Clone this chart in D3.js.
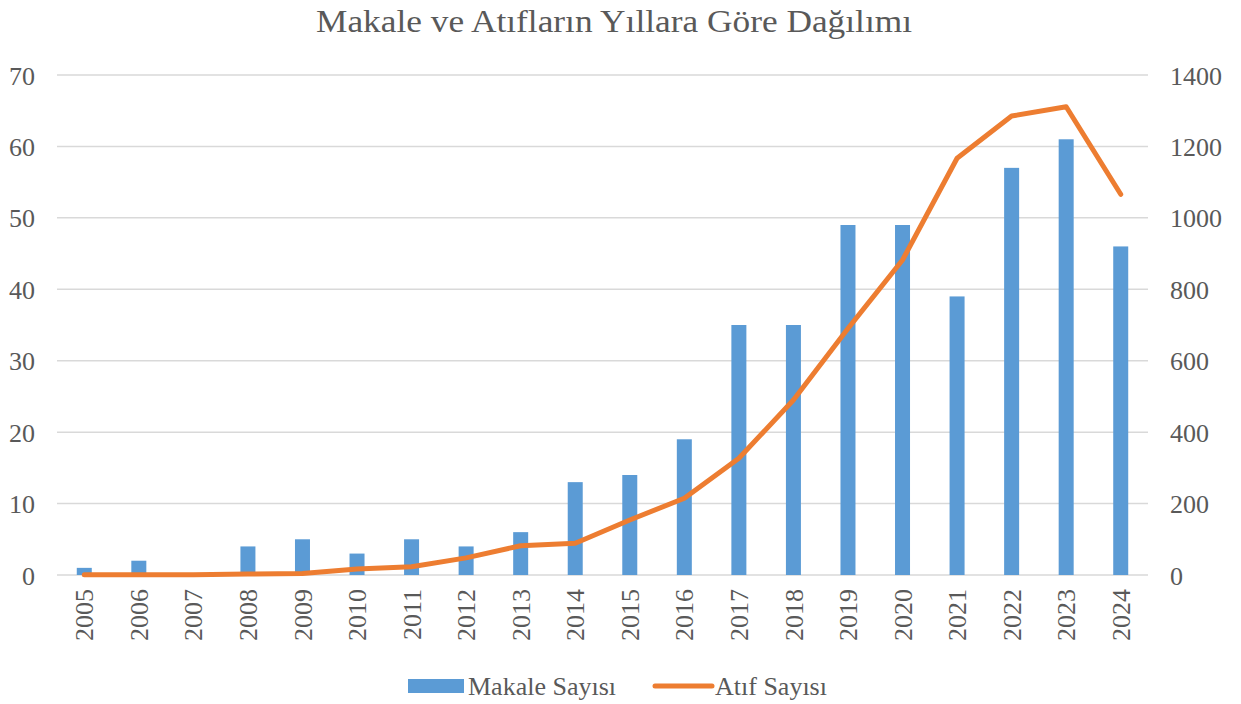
<!DOCTYPE html>
<html>
<head>
<meta charset="utf-8">
<script src="https://cdn.jsdelivr.net/npm/d3@7"></script>
<style>
  body { margin: 0; background: #fff; }
</style>
</head>
<body>
<script>
// data
const years = ['2005','2006','2007','2008','2009','2010','2011','2012','2013','2014',
               '2015','2016','2017','2018','2019','2020','2021','2022','2023','2024']
const makale = [1, 2, 0, 4, 5, 3, 5, 4, 6, 13, 14, 19, 35, 35, 49, 49, 39, 57, 61, 46]
const atif = [1, 1, 1, 3, 4, 17, 23, 48, 82, 89, 154, 215, 327, 490, 690, 882, 1167, 1285, 1311, 1066]
const leftTicks = [0, 10, 20, 30, 40, 50, 60, 70]
const rightTicks = [0, 200, 400, 600, 800, 1000, 1200, 1400]

const width = 1241, height = 704
const m = { top: 75, right: 93, bottom: 129, left: 57 }
const serif = 'Liberation Serif, Times New Roman, DejaVu Serif, serif'
const textColor = '#595959'

let svg = d3.select('body').append('svg')
    .attr('width', width)
    .attr('height', height)

// scales
let x = d3.scaleBand()
    .domain(years)
    .range([m.left, width - m.right])

let yL = d3.scaleLinear()
    .domain([0, 70])
    .range([height - m.bottom, m.top])

let yR = d3.scaleLinear()
    .domain([0, 1400])
    .range([height - m.bottom, m.top])

// title
svg.append('text')
    .attr('x', 614)
    .attr('y', 32)
    .attr('text-anchor', 'middle')
    .attr('textLength', 596)
    .attr('lengthAdjust', 'spacingAndGlyphs')
    .style('font-family', serif)
    .style('fill', textColor)
    .style('font-size', '32px')
    .text('Makale ve Atıfların Yıllara Göre Dağılımı')

// gridlines
svg.append('g')
    .selectAll('line')
    .data(leftTicks)
    .enter().append('line')
    .attr('x1', m.left)
    .attr('x2', width - m.right)
    .attr('y1', d => yL(d))
    .attr('y2', d => yL(d))
    .attr('stroke', '#d9d9d9')
    .attr('stroke-width', 1.5)

function styleAxis(g) {
    g.select('.domain').remove()
    g.selectAll('text')
        .style('font-family', serif)
        .style('font-size', '26px')
        .style('fill', textColor)
        .attr('dy', '0.35em')
}

// left axis
let leftAxis = svg.append('g')
    .attr('transform', 'translate(35,0)')
    .call(d3.axisLeft(yL).tickValues(leftTicks).tickSize(0).tickPadding(0))
styleAxis(leftAxis)

// right axis, labels left-aligned
let rightAxis = svg.append('g')
    .attr('transform', 'translate(1170,0)')
    .call(d3.axisRight(yR).tickValues(rightTicks).tickFormat(d3.format('d')).tickSize(0).tickPadding(0))
styleAxis(rightAxis)

// x axis labels, rotated
let xAxis = svg.append('g')
    .attr('transform', 'translate(0,' + (height - m.bottom) + ')')
    .call(d3.axisBottom(x).tickSize(0).tickPadding(0))
styleAxis(xAxis)
xAxis.selectAll('text')
    .attr('text-anchor', 'end')
    .attr('transform', 'translate(0,14) rotate(-90)')
    .attr('x', 0)
    .attr('y', 0)

// bars
const barW = 15
svg.append('g')
    .selectAll('rect')
    .data(makale)
    .enter().append('rect')
    .attr('x', (d, i) => x(years[i]) + x.bandwidth() / 2 - barW / 2)
    .attr('y', d => yL(d))
    .attr('width', barW)
    .attr('height', d => yL(0) - yL(d))
    .attr('fill', '#5b9bd5')

// line
let line = d3.line()
    .x((d, i) => x(years[i]) + x.bandwidth() / 2)
    .y(d => yR(d))

svg.append('path')
    .datum(atif)
    .attr('d', line)
    .attr('fill', 'none')
    .attr('stroke', '#ed7d31')
    .attr('stroke-width', 5)
    .attr('stroke-linejoin', 'round')
    .attr('stroke-linecap', 'round')

// legend
let legend = svg.append('g').attr('transform', 'translate(0,686)')
legend.append('rect')
    .attr('x', 408).attr('y', -7)
    .attr('width', 56).attr('height', 14)
    .attr('fill', '#5b9bd5')
legend.append('line')
    .attr('x1', 655).attr('x2', 712)
    .attr('y1', 0).attr('y2', 0)
    .attr('stroke', '#ed7d31')
    .attr('stroke-width', 5)
    .attr('stroke-linecap', 'round')
legend.selectAll('text')
    .data([['Makale Sayısı', 468], ['Atıf Sayısı', 715]])
    .enter().append('text')
    .attr('x', d => d[1]).attr('y', 0).attr('dy', '0.35em')
    .style('font-family', serif)
    .style('font-size', '26px')
    .style('fill', textColor)
    .text(d => d[0])
</script>
</body>
</html>
